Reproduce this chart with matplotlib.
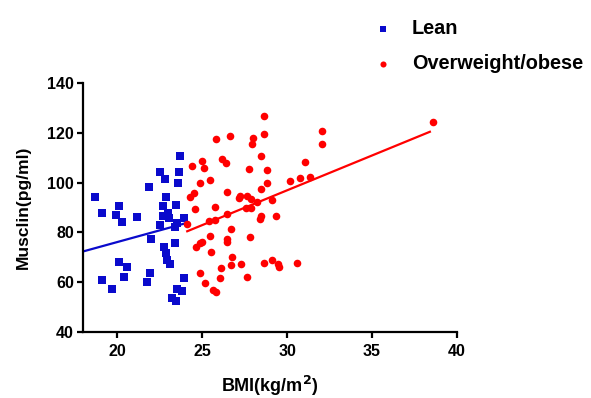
import matplotlib
matplotlib.use("Agg")
import matplotlib.pyplot as plt
import numpy as np

plt.rcParams["font.family"] = ["Liberation Sans", "DejaVu Sans"]
plt.rcParams["font.weight"] = "bold"

# Lean group (BMI, musclin)
lean_bmi = [23.69, 22.55, 22.84, 23.63, 23.59, 21.86, 18.71, 22.90, 22.71, 23.49,
            20.09, 19.10, 19.95, 20.28, 21.17, 22.71, 22.98, 23.04, 23.97, 22.55,
            23.53, 23.39, 22.02, 22.75, 22.90, 22.94, 23.10, 23.43, 20.13, 20.58,
            20.44, 19.10, 19.69, 21.92, 21.76, 23.97, 23.53, 23.83, 23.24, 23.48]
lean_musclin = [110.7, 104.4, 101.4, 104.4, 99.7, 98.1, 94.1, 94.1, 90.6, 91.0,
                90.6, 87.7, 87.0, 84.3, 86.3, 86.6, 87.9, 85.7, 85.9, 83.0,
                83.9, 82.0, 77.3, 74.3, 71.6, 68.9, 67.2, 75.9, 68.0, 66.0,
                62.2, 60.9, 57.1, 63.6, 60.1, 61.6, 57.1, 56.5, 53.5, 52.4]

# Overweight/obese group (BMI, musclin)
obese_bmi = [28.65, 28.65, 26.64, 25.80, 28.00, 27.96, 28.45, 25.01, 26.19, 26.39,
             24.42, 25.11, 27.76, 28.81, 25.46, 24.87, 28.81, 30.19, 24.52, 24.28,
             26.49, 28.45, 27.23, 27.67, 27.17, 27.86, 28.22, 29.14, 25.76, 24.56,
             27.57, 27.86, 26.45, 28.45, 28.41, 29.38, 24.13, 25.40, 25.76, 26.72,
             25.46, 26.49, 26.45, 25.01, 24.87, 24.67, 27.80, 25.54, 26.79, 26.72,
             27.27, 26.09, 28.65, 29.14, 29.44, 29.50, 24.91, 26.05, 27.63, 25.15,
             25.66, 25.80, 38.60, 32.08, 32.08, 31.05, 30.78, 31.37, 30.58]
obese_musclin = [126.7, 119.5, 118.7, 117.4, 117.8, 115.4, 110.7, 108.7, 109.5, 108.0,
                 106.7, 106.0, 105.3, 105.1, 101.0, 99.7, 99.7, 100.6, 95.9, 94.3,
                 96.3, 97.4, 94.6, 94.6, 93.7, 93.3, 92.3, 93.0, 90.1, 89.4,
                 89.7, 89.9, 87.4, 86.6, 85.5, 86.6, 83.3, 84.7, 85.0, 81.4,
                 78.7, 77.2, 76.3, 76.3, 75.6, 74.3, 78.0, 72.0, 70.2, 66.9,
                 67.2, 65.6, 67.8, 68.9, 67.3, 66.0, 63.6, 61.8, 62.0, 59.6,
                 56.9, 56.2, 124.2, 120.8, 115.4, 108.3, 101.7, 102.1, 67.8]

# regression lines as shown in the figure (slope, intercept)
lean_fit = (1.88, 38.5)
obese_fit = (2.80, 12.9)
lean_fit_range = (18.0, 23.97)
obese_fit_range = (24.13, 38.4)

x_ticks = [20, 25, 30, 35, 40]
y_ticks = [40, 60, 80, 100, 120, 140]

blue = "#0a0acc"
red = "#ff0000"

fig = plt.figure(figsize=(5.91, 3.98), dpi=100)
ax = fig.add_axes([0.1404, 0.1658, 0.633, 0.6256])

ax.scatter(lean_bmi, lean_musclin, marker="s", s=28, color=blue, label="Lean",
           linewidths=0, zorder=3)
ax.scatter(obese_bmi, obese_musclin, marker="o", s=30, color=red,
           label="Overweight/obese", linewidths=0, zorder=3)

for (k, b), rng, c in [(lean_fit, lean_fit_range, blue), (obese_fit, obese_fit_range, red)]:
    xx = np.array(rng)
    ax.plot(xx, k * xx + b, color=c, linewidth=1.6, zorder=2)

ax.set_xlim(18, 40)
ax.set_ylim(40, 140)
ax.set_xticks(x_ticks)
ax.set_yticks(y_ticks)
for s in ["top", "right"]:
    ax.spines[s].set_visible(False)
for s in ["left", "bottom"]:
    ax.spines[s].set_linewidth(1.6)
ax.tick_params(width=1.6, length=4.5, labelsize=11.5, pad=2)
ax.tick_params(axis="x", pad=4)
ax.set_xlabel("BMI(kg/m$^\\mathbf{2}$)", fontsize=13, fontweight="bold", labelpad=11)
ax.set_ylabel("Musclin(pg/ml)", fontsize=12.5, fontweight="bold", labelpad=12)

leg = fig.legend(loc="upper left", bbox_to_anchor=(0.6345, 0.952), frameon=False,
                 fontsize=14.3, handletextpad=1.05, labelspacing=0.8,
                 markerscale=0.8, handlelength=0.8, borderpad=0, borderaxespad=0)

fig.savefig("out.png", dpi=100)
